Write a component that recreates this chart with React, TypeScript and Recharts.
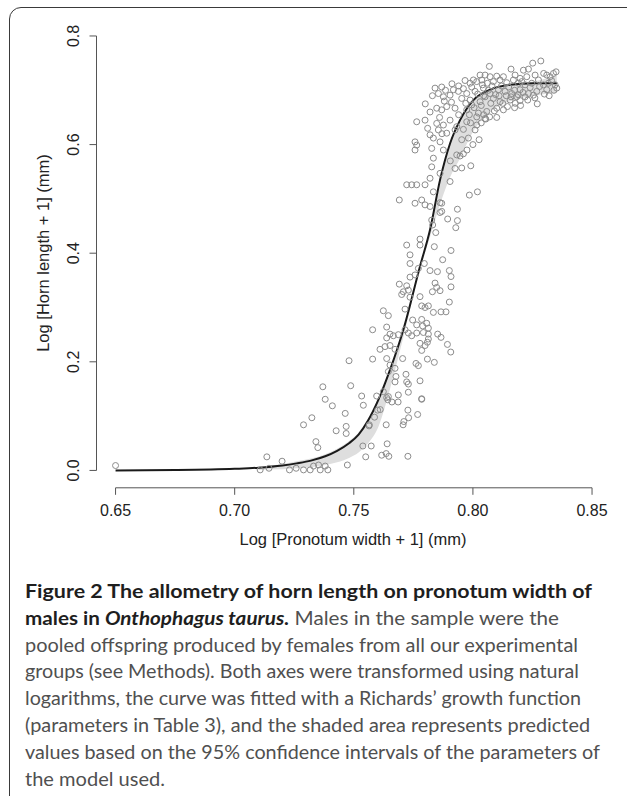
import React from "react";
import { ComposedChart, XAxis, YAxis, Area, Line, Scatter, ReferenceLine } from "recharts";

// fitted Richards curve
const curveX = [0.65, 0.675, 0.7, 0.71, 0.72, 0.726, 0.732, 0.738, 0.743, 0.748, 0.752, 0.756, 0.7603, 0.7652, 0.7708, 0.7778, 0.782, 0.7862, 0.7904, 0.7946, 0.8002, 0.8072, 0.8156, 0.8254, 0.8352];
const curveY = [0, 0.0007, 0.003, 0.005, 0.009, 0.013, 0.018, 0.026, 0.036, 0.05, 0.066, 0.092, 0.13, 0.185, 0.259, 0.376, 0.443, 0.535, 0.602, 0.645, 0.682, 0.701, 0.71, 0.713, 0.713];
// 95% CI band
const bandLow = [null, null, null, 0.001, 0.002, 0.004, 0.006, 0.01, 0.015, 0.023, 0.033, 0.05, 0.08, 0.15, 0.245, 0.37, 0.43, 0.49, 0.54, 0.575, 0.625, 0.66, 0.68, 0.69, 0.695];
const bandHigh = [null, null, null, 0.006, 0.012, 0.017, 0.022, 0.03, 0.04, 0.054, 0.07, 0.096, 0.132, 0.186, 0.26, 0.378, 0.445, 0.537, 0.604, 0.647, 0.684, 0.703, 0.712, 0.716, 0.728];

const lowPoints = [
  [0.65, 0.009], [0.7107, 0.001], [0.7135, 0.025], [0.7144, 0.004], [0.7199, 0.017], [0.723, 0.001],
  [0.7258, 0.004], [0.7289, 0.001], [0.7317, 0.001], [0.7331, 0.008], [0.7352, 0.01], [0.7359, 0.001],
  [0.738, 0.008], [0.7391, 0.001], [0.7341, 0.053], [0.7349, 0.042], [0.7289, 0.084], [0.7324, 0.097],
  [0.737, 0.154], [0.738, 0.131], [0.741, 0.119], [0.7426, 0.073], [0.7464, 0.105], [0.7468, 0.081],
  [0.7473, 0.01], [0.7468, 0.068], [0.754, 0.12], [0.7564, 0.082], [0.7538, 0.045], [0.7573, 0.045],
  [0.755, 0.025], [0.7611, 0.112], [0.7617, 0.028], [0.7636, 0.031], [0.7636, 0.084], [0.7647, 0.026],
  [0.764, 0.049], [0.7707, 0.084], [0.771, 0.09], [0.7727, 0.026], [0.773, 0.097], [0.7727, 0.111],
  [0.7768, 0.103], [0.7785, 0.131], [0.7643, 0.13], [0.7686, 0.126], [0.7587, 0.098], [0.76, 0.111],
  [0.7565, 0.084], [0.766, 0.126],
];

const midPoints = [
  [0.7691, 0.498], [0.7757, 0.492], [0.7799, 0.489], [0.782, 0.486], [0.7869, 0.492], [0.7935, 0.481],
  [0.7862, 0.475], [0.7894, 0.463], [0.7935, 0.46], [0.7928, 0.447], [0.7831, 0.452], [0.7844, 0.438],
  [0.7778, 0.426], [0.7778, 0.415], [0.7722, 0.415], [0.7838, 0.412], [0.7908, 0.405], [0.7736, 0.397],
  [0.7736, 0.381], [0.7873, 0.388], [0.7796, 0.381], [0.7771, 0.372], [0.782, 0.368], [0.7851, 0.366],
  [0.7901, 0.368], [0.7908, 0.357], [0.7736, 0.356], [0.7757, 0.36], [0.7691, 0.343], [0.7841, 0.345],
  [0.7848, 0.337], [0.7908, 0.338], [0.7722, 0.34], [0.7708, 0.329], [0.7701, 0.324], [0.7729, 0.332],
  [0.7736, 0.319], [0.7778, 0.32], [0.783, 0.329], [0.7862, 0.331], [0.7901, 0.31], [0.7866, 0.292],
  [0.7887, 0.292], [0.7834, 0.291], [0.7785, 0.303], [0.7799, 0.3], [0.7813, 0.303], [0.7715, 0.297],
  [0.7624, 0.294], [0.7645, 0.285], [0.7747, 0.277], [0.7785, 0.278], [0.7806, 0.271], [0.7813, 0.262],
  [0.7789, 0.266], [0.7764, 0.268], [0.7579, 0.259], [0.7638, 0.264], [0.7652, 0.251], [0.7666, 0.248],
  [0.7687, 0.25], [0.7715, 0.259], [0.7729, 0.253], [0.7743, 0.248], [0.7764, 0.253], [0.7792, 0.254],
  [0.7813, 0.251], [0.7852, 0.251], [0.7866, 0.245], [0.7893, 0.232], [0.7907, 0.218], [0.7638, 0.244],
  [0.7631, 0.228], [0.7652, 0.23], [0.7673, 0.223], [0.761, 0.223], [0.7778, 0.234], [0.7799, 0.23],
  [0.7809, 0.236], [0.7785, 0.221], [0.7813, 0.242], [0.748, 0.202], [0.7579, 0.205], [0.7638, 0.206],
  [0.7705, 0.206], [0.7761, 0.197], [0.7771, 0.193], [0.7809, 0.205], [0.7838, 0.199], [0.7652, 0.194],
  [0.7645, 0.182], [0.7673, 0.188], [0.7677, 0.173], [0.7719, 0.177], [0.7722, 0.163], [0.7729, 0.159],
  [0.7673, 0.163], [0.7778, 0.165], [0.7487, 0.156], [0.7533, 0.137], [0.7596, 0.137], [0.7624, 0.145],
  [0.7645, 0.136], [0.7729, 0.144], [0.7785, 0.132], [0.7687, 0.139], [0.7638, 0.134],
];

const highPoints = [
  [0.8069, 0.744], [0.8285, 0.754], [0.8251, 0.75], [0.816, 0.739], [0.8212, 0.737], [0.8233, 0.739],
  [0.8349, 0.734], [0.8338, 0.731], [0.8297, 0.731], [0.8352, 0.704], [0.803, 0.728], [0.8051, 0.728],
  [0.8072, 0.725], [0.81, 0.726], [0.8128, 0.725], [0.8177, 0.728], [0.8198, 0.722], [0.8226, 0.725],
  [0.8261, 0.728], [0.831, 0.728], [0.8324, 0.725], [0.7967, 0.718], [0.7988, 0.713], [0.8016, 0.716],
  [0.8037, 0.719], [0.8061, 0.713], [0.8086, 0.716], [0.8114, 0.719], [0.8142, 0.714], [0.817, 0.719],
  [0.8191, 0.713], [0.8219, 0.71], [0.8247, 0.713], [0.8275, 0.719], [0.8296, 0.71], [0.8317, 0.713],
  [0.7841, 0.704], [0.7869, 0.706], [0.7918, 0.701], [0.7939, 0.698], [0.7974, 0.694], [0.8009, 0.698],
  [0.8044, 0.704], [0.8072, 0.694], [0.8107, 0.701], [0.8135, 0.698], [0.8163, 0.694], [0.8198, 0.701],
  [0.8233, 0.694], [0.8268, 0.698], [0.831, 0.701], [0.7855, 0.694], [0.7876, 0.688], [0.7904, 0.691],
  [0.7953, 0.685], [0.7988, 0.682], [0.803, 0.679], [0.8051, 0.688], [0.8086, 0.685], [0.8114, 0.679],
  [0.8156, 0.682], [0.8184, 0.688], [0.8219, 0.688], [0.8254, 0.691], [0.7848, 0.667], [0.7869, 0.664],
  [0.789, 0.67], [0.7925, 0.667], [0.7974, 0.664], [0.7995, 0.673], [0.8023, 0.658], [0.8058, 0.661],
  [0.81, 0.667], [0.8128, 0.664], [0.8198, 0.681], [0.8016, 0.651], [0.8051, 0.648], [0.7764, 0.642],
  [0.7799, 0.645], [0.7848, 0.639], [0.7876, 0.636], [0.7904, 0.645], [0.7932, 0.633], [0.7974, 0.642],
  [0.8016, 0.636], [0.8054, 0.647], [0.7757, 0.605], [0.7764, 0.599], [0.782, 0.618], [0.7834, 0.612],
  [0.7855, 0.627], [0.7862, 0.605], [0.789, 0.621], [0.7925, 0.627], [0.7953, 0.609], [0.7981, 0.612],
  [0.8009, 0.627], [0.8026, 0.609], [0.7757, 0.59], [0.7827, 0.593], [0.7834, 0.575], [0.7876, 0.59],
  [0.7932, 0.581], [0.7946, 0.579], [0.796, 0.583], [0.7925, 0.556], [0.7953, 0.557], [0.7991, 0.561],
  [0.7827, 0.559], [0.7862, 0.547], [0.782, 0.538], [0.7904, 0.532], [0.7722, 0.526], [0.7743, 0.526],
  [0.7764, 0.526], [0.7799, 0.526], [0.7834, 0.513], [0.7985, 0.507], [0.8019, 0.513], [0.7785, 0.498],
  [0.7862, 0.493], [0.7869, 0.477], [0.7827, 0.461],
  [0.7885, 0.7], [0.7912, 0.712], [0.794, 0.708], [0.796, 0.703], [0.7995, 0.706], [0.8002, 0.719],
  [0.802, 0.693], [0.804, 0.71], [0.8065, 0.7], [0.808, 0.708], [0.8095, 0.692], [0.812, 0.708],
  [0.814, 0.69], [0.815, 0.706], [0.8175, 0.7], [0.819, 0.692], [0.8205, 0.716], [0.824, 0.705],
  [0.826, 0.686], [0.828, 0.707], [0.83, 0.693], [0.833, 0.718], [0.8345, 0.71], [0.797, 0.676],
  [0.7985, 0.655], [0.8005, 0.668], [0.8035, 0.672], [0.8045, 0.69], [0.8075, 0.676], [0.809, 0.662],
  [0.811, 0.69], [0.8125, 0.676], [0.8145, 0.67], [0.816, 0.688], [0.8178, 0.676], [0.821, 0.696],
  [0.823, 0.682], [0.8045, 0.655], [0.794, 0.655], [0.791, 0.678], [0.788, 0.68], [0.786, 0.65],
  [0.783, 0.69], [0.782, 0.66], [0.78, 0.675], [0.781, 0.63], [0.787, 0.62], [0.796, 0.628],
  [0.799, 0.64], [0.8, 0.6], [0.7975, 0.59], [0.7905, 0.57], [0.8035, 0.64], [0.807, 0.651],
  [0.81, 0.65], [0.8175, 0.668], [0.82, 0.672], [0.827, 0.675], [0.832, 0.69], [0.834, 0.7],
];

const xTicks = [0.65, 0.7, 0.75, 0.8, 0.85];
const xTickLabels = ["0.65", "0.70", "0.75", "0.80", "0.85"];
const yTicks = [0, 0.2, 0.4, 0.6, 0.8];
const yTickLabels = ["0.0", "0.2", "0.4", "0.6", "0.8"];

const X_DOMAIN = [0.642, 0.858];
const Y_DOMAIN = [-0.032, 0.832];

const curveData = curveX.map((x, i) => ({
  x,
  curve: curveY[i],
  band: bandLow[i] == null ? null : [bandLow[i], bandHigh[i]],
}));
const pointData = [...lowPoints, ...midPoints, ...highPoints].map(([x, y]) => ({ x, y }));

const AXIS_FONT = "'Liberation Sans', Arial, sans-serif";
const AXIS_GREY = "#555";

function XTick({ x, y, payload }: any) {
  const i = xTicks.indexOf(payload.value);
  return (
    <text x={x} y={y} dy="0.71em" textAnchor="middle" fontSize={16} fill="#222" fontFamily={AXIS_FONT}>
      {xTickLabels[i]}
    </text>
  );
}

function YTick({ x, y, payload }: any) {
  const i = yTicks.indexOf(payload.value);
  return (
    <text
      x={x}
      y={y}
      transform={`rotate(-90 ${x} ${y})`}
      textAnchor="middle"
      fontSize={16}
      fill="#222"
      fontFamily={AXIS_FONT}
    >
      {yTickLabels[i]}
    </text>
  );
}

const Ring = (props: any) => (
  <circle cx={props.cx} cy={props.cy} r={3} fill="none" stroke="#8c8c8c" strokeWidth={1} />
);

const captionLines = [
  { end: 592, parts: [{ t: "Figure 2 The allometry of horn length on pronotum width of", b: true }] },
  {
    end: 559,
    parts: [
      { t: "males in ", b: true },
      { t: "Onthophagus taurus.", b: true, i: true },
      { t: " Males in the sample were the" },
    ],
  },
  { end: 578, parts: [{ t: "pooled offspring produced by females from all our experimental" }] },
  { end: 579, parts: [{ t: "groups (see Methods). Both axes were transformed using natural" }] },
  { end: 581, parts: [{ t: "logarithms, the curve was fitted with a Richards\u2019 growth function" }] },
  { end: 590, parts: [{ t: "(parameters in Table 3), and the shaded area represents predicted" }] },
  { end: 600, parts: [{ t: "values based on the 95% confidence intervals of the parameters of" }] },
  { end: 165, parts: [{ t: "the model used." }] },
];

export default function App() {
  return (
    <div
      style={{
        position: "fixed",
        left: 0,
        top: 0,
        width: 627,
        height: 796,
        overflow: "hidden",
        background: "#fff",
      }}
    >
      <div
        style={{
          position: "absolute",
          left: 9,
          top: 7,
          width: 660,
          height: 840,
          border: "1.5px solid #3a3a3a",
          borderRadius: 12,
        }}
      />
      <div style={{ position: "absolute", left: 0, top: 0 }}>
        <ComposedChart
          width={627}
          height={560}
          data={curveData}
          margin={{ top: 18.6, right: 15.9, bottom: 32.2, left: 16.5 }}
        >
          <XAxis
            type="number"
            dataKey="x"
            domain={X_DOMAIN}
            ticks={xTicks}
            allowDataOverflow
            axisLine={false}
            tickLine={{ stroke: AXIS_GREY, strokeWidth: 1 }}
            tickSize={7}
            tickMargin={10}
            height={40}
            tick={<XTick />}
          />
          <YAxis
            type="number"
            dataKey="y"
            domain={Y_DOMAIN}
            ticks={yTicks}
            allowDataOverflow
            axisLine={false}
            tickLine={{ stroke: AXIS_GREY, strokeWidth: 1 }}
            tickSize={7}
            tickMargin={10}
            width={80}
            tick={<YTick />}
          />
          <ReferenceLine
            segment={[{ x: 0.65, y: -0.032 }, { x: 0.85, y: -0.032 }]}
            stroke={AXIS_GREY}
            strokeWidth={1}
            ifOverflow="visible"
          />
          <ReferenceLine
            segment={[{ x: 0.642, y: 0 }, { x: 0.642, y: 0.8 }]}
            stroke={AXIS_GREY}
            strokeWidth={1}
            ifOverflow="visible"
          />
          <Area
            dataKey="band"
            type="monotone"
            stroke="none"
            fill="#dedede"
            fillOpacity={1}
            isAnimationActive={false}
          />
          <Scatter data={pointData} shape={<Ring />} isAnimationActive={false} />
          <Line
            dataKey="curve"
            type="monotone"
            stroke="#1a1a1a"
            strokeWidth={2}
            dot={false}
            isAnimationActive={false}
          />
        </ComposedChart>
      </div>
      <div
        style={{
          position: "absolute",
          left: 353,
          top: 539,
          transform: "translate(-50%, -50%)",
          whiteSpace: "nowrap",
          fontFamily: AXIS_FONT,
          fontSize: 16.5,
          color: "#222",
        }}
      >
        Log [Pronotum width + 1] (mm)
      </div>
      <div
        style={{
          position: "absolute",
          left: 43,
          top: 253,
          transform: "translate(-50%, -50%) rotate(-90deg)",
          whiteSpace: "nowrap",
          fontFamily: AXIS_FONT,
          fontSize: 16.5,
          color: "#222",
        }}
      >
        Log [Horn length + 1] (mm)
      </div>
      <svg
        width={627}
        height={796}
        style={{ position: "absolute", left: 0, top: 0 }}
        fontFamily="Lato, 'Open Sans', sans-serif"
        fontSize={18.5}
      >
        {captionLines.map((line, li) => (
          <text
            key={li}
            x={25}
            y={598 + li * 26.8}
            textLength={line.end - 25}
            lengthAdjust="spacingAndGlyphs"
          >
            {line.parts.map((p: any, pi) => (
              <tspan
                key={pi}
                fontWeight={p.b ? 700 : 400}
                fontStyle={p.i ? "italic" : "normal"}
                fill={p.b ? "#1e1e1e" : "#505050"}
              >
                {p.t}
              </tspan>
            ))}
          </text>
        ))}
      </svg>
    </div>
  );
}
